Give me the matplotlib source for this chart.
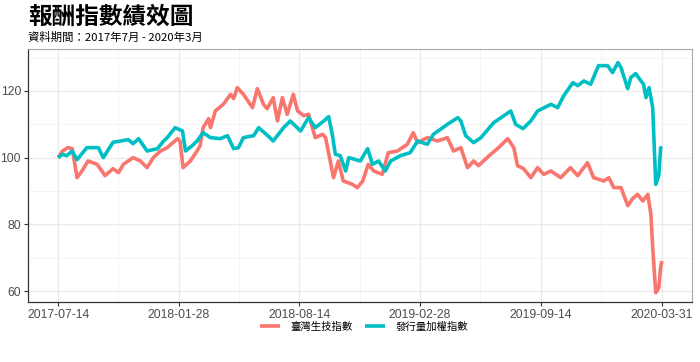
import pandas as pd
import matplotlib
matplotlib.use("Agg")
import matplotlib.pyplot as plt
import matplotlib.dates as mdates

plt.rcParams['font.family'] = ['Noto Sans CJK TC', 'DejaVu Sans']

# 資料起始日，以下各序列的日期以「距起始日天數」記錄
start = "2017-07-14"

bio_day = [0, 7, 16, 23, 31, 39, 49, 64, 77, 90, 99, 107, 123, 135, 146, 156, 168, 179,
           196, 200, 205, 217, 228, 233, 238, 247, 250, 258, 271, 283, 288, 294, 304, 319,
           327, 337, 343, 353, 360, 368, 376, 386, 393, 403, 411, 422, 434, 439, 452, 460,
           468, 483, 491, 500, 509, 518, 532, 542, 557, 573, 583, 590, 606, 623, 639, 649,
           661, 672, 682, 690, 710, 723, 738, 748, 754, 764, 776, 787, 797, 809, 825, 841,
           853, 869, 879, 896, 904, 912, 924, 935, 943, 951, 960, 968, 973, 976, 981, 986,
           989, 991]
bio_val = [100, 102, 103, 102.7, 94, 96, 99, 98, 94.6, 96.7, 95.5, 98, 100, 99, 97, 100, 102, 103,
           105.7, 105, 97, 99, 102, 103.6, 109, 111.7, 109, 114, 116, 119, 117.7, 121, 119, 115,
           120.7, 116, 114.7, 118, 111, 118, 113, 119, 114, 112.6, 113, 106, 107, 106, 94, 99,
           93, 92, 91, 93, 98, 96, 95, 101.5, 102, 104, 107.5, 104.5, 106, 105, 106, 102,
           103, 97, 99, 97.6, 101, 103, 105.7, 103, 97.6, 96.7, 94, 97, 95, 96, 94, 97,
           94.6, 98.5, 94, 93, 94, 91, 91, 85.6, 87.7, 89, 87, 89, 83, 73, 59.5, 61,
           67, 69]

taiex_day = [0, 7, 14, 23, 31, 47, 66, 74, 90, 115, 123, 132, 146, 163, 173, 179, 192, 204,
             209, 220, 228, 238, 250, 266, 278, 288, 296, 304, 321, 329, 344, 353, 370, 381,
             398, 411, 422, 436, 444, 450, 455, 463, 472, 477, 496, 508, 516, 526, 537, 546,
             562, 578, 590, 606, 616, 639, 656, 661, 669, 682, 694, 715, 743, 751, 763, 776,
             787, 809, 820, 830, 845, 853, 863, 874, 887, 902, 910, 919, 924, 935, 940, 948,
             961, 965, 970, 976, 981, 986, 989, 991]
taiex_val = [100, 101, 100.6, 102, 99.4, 103, 103, 100, 104.6, 105.4, 104.2, 105.7, 102, 102.7, 105, 106, 109, 108,
             102, 103.6, 105, 107.5, 106, 105.7, 106.6, 102.7, 103, 106, 106.6, 109, 106.6, 105, 109, 111,
             108, 112, 109, 111, 112.3, 107, 101, 100.6, 96, 100, 99, 102.7, 98, 99, 96, 99,
             100.6, 101.5, 105, 104, 107, 110, 112, 111, 106.6, 104.5, 106, 110.5, 114, 110, 108.7, 111,
             114, 116, 115, 118.6, 122.5, 121.6, 123, 122, 127.6, 127.6, 125.5, 128.5, 127, 120.7, 124, 125.2,
             122, 118, 121, 115, 92, 94.6, 103, 102.7]

series_names = ["臺灣生技指數", "發行量加權指數"]
series_colors = ["#F8766D", "#00BFC4"]

tick_dates = ["2017-07-14", "2018-01-28", "2018-08-14", "2019-02-28", "2019-09-14", "2020-03-31"]
y_ticks = [60, 80, 100, 120]

t0 = pd.Timestamp(start)
bio_x = t0 + pd.to_timedelta(bio_day, unit="D")
taiex_x = t0 + pd.to_timedelta(taiex_day, unit="D")

fig = plt.figure(figsize=(7, 3.62), dpi=100)
ax = fig.add_axes([0.04, 0.1666, 0.9486, 0.6972])

ax.plot(bio_x, bio_val, color=series_colors[0], lw=2.6, label=series_names[0],
        solid_joinstyle="round", solid_capstyle="butt")
ax.plot(taiex_x, taiex_val, color=series_colors[1], lw=2.6, label=series_names[1],
        solid_joinstyle="round", solid_capstyle="butt")

# 座標範圍（ggplot 預設 5% 外擴）
t_end = pd.Timestamp(tick_dates[-1])
span = t_end - t0
ax.set_xlim(t0 - span * 0.05, t_end + span * 0.05)
ax.set_ylim(56.8, 132.5)

tk = [pd.Timestamp(d) for d in tick_dates]
ax.set_xticks(tk)
ax.set_xticklabels(tick_dates)
minor = [tk[i] + (tk[i + 1] - tk[i]) / 2 for i in range(len(tk) - 1)]
ax.set_xticks(minor, minor=True)
ax.set_yticks(y_ticks)
ax.set_yticks([70, 90, 110, 130], minor=True)

ax.grid(which="major", color="#EBEBEB", lw=1.0)
ax.grid(which="minor", color="#F2F2F2", lw=0.6)
ax.set_axisbelow(True)

for s in ["top", "right"]:
    ax.spines[s].set_color("#A8A8A8")
    ax.spines[s].set_linewidth(0.8)
for s in ["left", "bottom"]:
    ax.spines[s].set_color("#333333")
    ax.spines[s].set_linewidth(0.9)

ax.tick_params(axis="both", which="major", length=3, width=0.8, color="#333333",
               labelcolor="#4D4D4D", labelsize=8.8, pad=2)
ax.tick_params(axis="both", which="minor", length=0)
for lab in ax.get_xticklabels() + ax.get_yticklabels():
    lab.set_family(["Liberation Sans", "DejaVu Sans"])

fig.text(0.04, 1 - 24 / 362, "報酬指數績效圖", fontsize=17, fontweight="bold",
         ha="left", va="baseline", color="black")
fig.text(0.04, 1 - 41 / 362, "資料期間：2017年7月 - 2020年3月", fontsize=8.2,
         ha="left", va="baseline", color="black")

fig.legend(loc="center", bbox_to_anchor=(0.52, 1 - 327 / 362), ncol=2, frameon=False,
           fontsize=7.5, handlelength=1.9, handletextpad=1.0, columnspacing=1.2)

fig.savefig("out.png", dpi=100)
